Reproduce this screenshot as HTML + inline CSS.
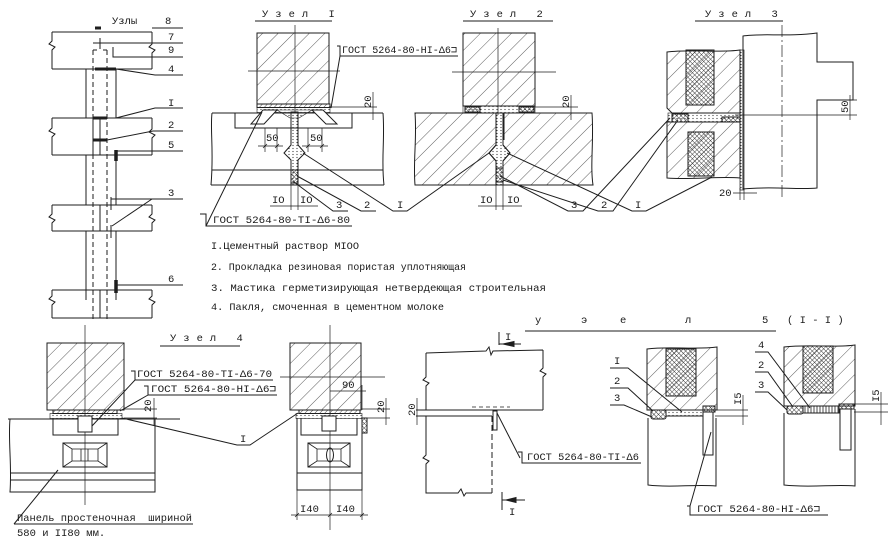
<!DOCTYPE html>
<html><head><meta charset="utf-8"><style>
html,body{margin:0;padding:0;background:#fff;}
svg{display:block;}
text{font-family:"Liberation Mono","DejaVu Sans Mono",monospace;fill:#1a1a1a;font-size:10.5px;stroke:none;}
</style></head><body>
<svg width="890" height="544" viewBox="0 0 890 544" xmlns="http://www.w3.org/2000/svg">
<defs>
<pattern id="hat" width="11" height="11" patternUnits="userSpaceOnUse" patternTransform="rotate(45)"><line x1="0" y1="0" x2="0" y2="11" stroke="#333" stroke-width="0.8"/></pattern>
<pattern id="xh" width="3.2" height="3.2" patternUnits="userSpaceOnUse" patternTransform="rotate(45)"><path d="M0,0V3.2M0,0H3.2" stroke="#222" stroke-width="0.8"/></pattern>
<pattern id="hs" width="3.5" height="3.5" patternUnits="userSpaceOnUse" patternTransform="rotate(45)"><line x1="0" y1="0" x2="0" y2="3.5" stroke="#222" stroke-width="0.8"/></pattern>
<pattern id="vt" width="3" height="8" patternUnits="userSpaceOnUse"><line x1="1" y1="0" x2="1" y2="8" stroke="#222" stroke-width="0.8"/></pattern>
<pattern id="dot" width="4" height="3" patternUnits="userSpaceOnUse"><circle cx="1" cy="1.5" r="0.6" fill="#333"/></pattern>
</defs>
<g fill="none" stroke="#1e1e1e" stroke-width="1">

<!-- ===== Overview (Узлы) ===== -->
<text x="112" y="24">Узлы</text>
<text x="165" y="24">8</text>
<path d="M152,28H183"/>
<path d="M95,28H101" stroke-width="3"/>
<path d="M52,32H152 M52,69H152 M52,32V41 L49,44 L55,47 L52,50 V69 M152,32V44 L149,47 L155,50 L152,53V69"/>
<path d="M93,43H183 M100,38V49"/>
<text x="168" y="40">7</text>
<path d="M113,47V57H183"/>
<text x="168" y="53">9</text>
<path d="M93,50H97 M103,50H107"/>
<path d="M93,50V320 M107,50V320" stroke-dasharray="5,3"/>
<path d="M86,69V118 M116,69V118"/>
<path d="M95,69H116" stroke-width="3"/>
<path d="M116,69 L155,75 H183"/>
<text x="168" y="72">4</text>
<path d="M52,118H152 M52,155H152 M52,118V128 L49,131 L55,134 L52,137 V155 M152,118V129 L149,132 L155,135 L152,138V155"/>
<path d="M93,118V155 M100,118V155"/>
<path d="M93,118H107 M93,140H107" stroke-width="3"/>
<path d="M116,118 L155,108 H183"/>
<text x="168" y="106">I</text>
<path d="M107,140 L153,131 H183"/>
<text x="168" y="128">2</text>
<path d="M116,150V161" stroke-width="3.5"/>
<path d="M116,151H183"/>
<text x="168" y="148">5</text>
<path d="M86,155V205 M116,155V205"/>
<path d="M111,199H183 M111,197V210 M152,199 L112,226 M111,225V238"/>
<text x="168" y="196">3</text>
<path d="M52,205H152 M52,231H152 M52,205V214 L49,217 L55,220 L52,223 V231 M152,205V214 L149,217 L155,220 L152,223V231"/>
<path d="M100,205V231"/>
<path d="M86,231V290 M116,231V290"/>
<path d="M116,280V293" stroke-width="3.5"/>
<path d="M116,285H183"/>
<text x="168" y="282">6</text>
<path d="M52,290H152 M52,318H152 M52,290V296 L49,299 L55,302 L52,305 V318 M152,290V296 L149,299 L155,302 L152,305V318"/>
<path d="M86,290V300 M100,290V318 M116,290V300"/>

<!-- ===== Узел I ===== -->
<text x="262" y="17" letter-spacing="7">Узел I</text>
<path d="M255,21H332"/>
<rect x="257" y="33" width="72" height="71" fill="url(#hat)"/>
<path d="M295,25V112 M248,71H340" stroke-width="0.7"/>
<rect x="257" y="104" width="73" height="3.5" fill="url(#hs)"/>
<rect x="257" y="107.5" width="73" height="5" fill="url(#dot)" stroke-width="0.6"/>
<path d="M212,113H383 M212,113 C210,130 214,150 211,185 M383,113 C385,140 381,160 384,185 M211,185H384 M212,170H383"/>
<path d="M235,113V128H352V113"/>
<polygon points="263,110 277,110 264,124 251,124" fill="#fff"/>
<polygon points="312,110 323,110 337,124 326,124" fill="#fff"/>
<polygon points="277,110 312,110 299,118 290,118" fill="url(#dot)" stroke-width="0.6"/>
<polygon points="291,112 298,112 298,145 305,153 298,160 298,185 291,185 291,160 284,153 291,145" fill="url(#dot)"/>
<rect x="291" y="170" width="7" height="13" fill="url(#xh)"/>
<path d="M265,128V152 M277,128V152 M258,146H283 M263,148 L267,144 M275,148 L279,144" stroke-width="0.7"/>
<text x="266" y="141">50</text>
<path d="M308,128V152 M322,128V152 M302,146H328 M306,148 L310,144 M320,148 L324,144" stroke-width="0.7"/>
<text x="310" y="141">50</text>
<path d="M330,107H377 M330,113H377 M373,92V120" stroke-width="0.7"/>
<text transform="translate(371,108) rotate(-90)">20</text>
<path d="M337,46H340V56H458 M340,56 L331,108"/>
<text x="342" y="53" textLength="115" lengthAdjust="spacingAndGlyphs">ГОСТ 5264-80-НI-Δ6⊐</text>
<path d="M200,214H206V226H352 M206,226 L262,112"/>
<text x="213" y="223" textLength="137" lengthAdjust="spacingAndGlyphs">ГОСТ 5264-80-TI-Δ6-80</text>
<path d="M291,185V210 M298,185V210 M270,206H318" stroke-width="0.7"/>
<text x="272" y="203">IO</text>
<text x="300" y="203">IO</text>
<path d="M294,182 L333,211 H348"/>
<text x="336" y="208">3</text>
<path d="M297,176 L361,211 H376"/>
<text x="364" y="208">2</text>
<path d="M303,153 L393,211 H407 L489,153"/>
<text x="397" y="208">I</text>

<!-- ===== Узел 2 ===== -->
<text x="470" y="17" letter-spacing="7">Узел 2</text>
<path d="M463,21H553"/>
<rect x="463" y="33" width="72" height="73" fill="url(#hat)"/>
<path d="M498,28V115 M452,72H556" stroke-width="0.7"/>
<rect x="463" y="106" width="72" height="7" fill="url(#dot)" stroke-width="0.6"/>
<rect x="465" y="107" width="15" height="5" fill="url(#xh)"/>
<rect x="519" y="107" width="15" height="5" fill="url(#xh)"/>
<path d="M415,113 H496 V145 L489,153 L496,161 V185 H415 C413,160 417,140 415,113 Z" fill="url(#hat)"/>
<path d="M503,113 H592 C594,140 590,165 593,185 H503 V161 L510,153 L503,145 Z" fill="url(#hat)"/>
<polygon points="496,113 503,113 503,145 510,153 503,161 503,185 496,185 496,161 489,153 496,145" fill="url(#dot)"/>
<rect x="496" y="168" width="7" height="14" fill="url(#xh)"/>
<path d="M503.5,113V140" stroke-width="2"/>
<path d="M535,107H578 M535,113H578 M571,95V120" stroke-width="0.7"/>
<text transform="translate(569,108) rotate(-90)">20</text>
<path d="M496,185V210 M503,185V210 M478,206H522" stroke-width="0.7"/>
<text x="480" y="203">IO</text>
<text x="507" y="203">IO</text>
<path d="M500,176 L568,211 H583 L670,118"/>
<text x="571" y="208">3</text>
<path d="M503,180 L598,211 H613 L678,120"/>
<text x="601" y="208">2</text>
<path d="M507,153 L632,211 H646 L712,177"/>
<text x="635" y="208">I</text>

<!-- ===== Узел 3 ===== -->
<text x="705" y="17" letter-spacing="7">Узел 3</text>
<path d="M695,21H783"/>
<path d="M743,36 C760,33 790,37 817,33 V62 H853 V100 H817 V188 C800,190 770,186 743,189 Z"/>
<path d="M782,25V200" stroke-width="0.7" stroke-dasharray="12,3,2,3"/>
<path d="M735,115H857" stroke-width="0.8"/>
<path d="M835,100H857 M850,95V120" stroke-width="0.7"/>
<text transform="translate(848,113) rotate(-90)">50</text>
<rect x="740" y="50" width="4" height="140" fill="url(#dot)" stroke-width="0.7"/>
<path d="M744,188V200 M740,188V200" stroke-width="0.7"/>
<path d="M667,52 C690,49 720,53 740,50 V113 H672 L667,108 Z" fill="url(#hat)"/>
<rect x="686" y="50" width="28" height="55" fill="url(#xh)"/>
<rect x="668" y="113" width="72" height="9" fill="url(#dot)" stroke-width="0.6"/>
<rect x="672" y="114" width="16" height="8" fill="url(#xh)"/>
<rect x="722" y="117" width="18" height="5" fill="url(#xh)"/>
<path d="M667,122 H740 V178 C720,176 690,180 667,178 Z" fill="url(#hat)"/>
<rect x="688" y="132" width="26" height="44" fill="url(#xh)"/>
<path d="M733,193H757" stroke-width="0.7"/>
<text x="719" y="196">20</text>

<!-- ===== Legend ===== -->
<text x="211" y="249" textLength="148" lengthAdjust="spacingAndGlyphs">I.Цементный раствор MIOO</text>
<text x="211" y="270" textLength="255" lengthAdjust="spacingAndGlyphs">2. Прокладка резиновая пористая уплотняющая</text>
<text x="211" y="291" textLength="335" lengthAdjust="spacingAndGlyphs">3. Мастика герметизирующая нетвердеющая строительная</text>
<text x="211" y="310" textLength="233" lengthAdjust="spacingAndGlyphs">4. Пакля, смоченная в цементном молоке</text>

<!-- ===== Узел 4 left ===== -->
<text x="170" y="341" letter-spacing="7">Узел 4</text>
<path d="M160,346H240"/>
<rect x="47" y="343" width="77" height="67" fill="url(#hat)"/>
<path d="M85,325V505" stroke-width="0.7"/>
<rect x="53" y="410" width="64" height="3.5" fill="url(#hs)"/>
<rect x="50" y="413.5" width="72" height="5" fill="url(#dot)" stroke-width="0.6"/>
<path d="M8,419H180"/>
<path d="M10,419 C8,440 12,465 10,492 H155 V419 M10,473H155 M10,480H155"/>
<path d="M53,419V435H118V419"/>
<rect x="78" y="416" width="14" height="16" fill="#fff"/>
<rect x="63" y="443" width="44" height="24"/>
<path d="M63,443 L72,449 H98 L107,443 M63,467 L72,461 H98 L107,467 M72,449V461 M98,449V461 M81,449V461 M88,449V461" stroke-width="0.8"/>
<path d="M124,409H157 M124,418H157 M154,398V425" stroke-width="0.7"/>
<text transform="translate(151,412) rotate(-90)">20</text>
<path d="M131,371H135V380H273 M135,380 L92,426"/>
<text x="137" y="377" textLength="135" lengthAdjust="spacingAndGlyphs">ГОСТ 5264-80-TI-Δ6-70</text>
<path d="M144,386H148V395H277 M148,395 L120,411"/>
<text x="151" y="392" textLength="125" lengthAdjust="spacingAndGlyphs">ГОСТ 5264-80-HI-Δ6⊐</text>
<path d="M122,418 L237,445 H250 L298,413"/>
<text x="240" y="442">I</text>
<path d="M14,524 L58,470 M14,524H193"/>
<text x="17" y="521" xml:space="preserve" textLength="175" lengthAdjust="spacingAndGlyphs">Панель простеночная  шириной</text>
<text x="17" y="536">580 и II80 мм.</text>

<!-- ===== Узел 4 right ===== -->
<rect x="290" y="343" width="71" height="67" fill="url(#hat)"/>
<path d="M280,377H385 M330,325V530" stroke-width="0.7"/>
<path d="M330,391H366 M362,385V410" stroke-width="0.7"/>
<text x="342" y="388">90</text>
<path d="M361,409H390 M361,418H390 M386,398V425" stroke-width="0.7"/>
<text transform="translate(384,413) rotate(-90)">20</text>
<rect x="299" y="410" width="61" height="3.5" fill="url(#hs)"/>
<rect x="296" y="413.5" width="66" height="5" fill="url(#dot)" stroke-width="0.6"/>
<path d="M297,418 V490 H362 V418 M297,473H362"/>
<path d="M301,418V435H357V418"/>
<rect x="322" y="416" width="14" height="15" fill="#fff"/>
<rect x="308" y="443" width="42" height="24"/>
<path d="M308,443 L317,449 H341 L350,443 M308,467 L317,461 H341 L350,467 M317,449V461 M341,449V461" stroke-width="0.8"/>
<ellipse cx="330" cy="455" rx="3.5" ry="7"/>
<rect x="362" y="418" width="5" height="15" fill="url(#xh)"/>
<path d="M297,490V520 M362,490V520 M291,515H368 M295,517 L299,513 M328,517 L332,513 M360,517 L364,513" stroke-width="0.7"/>
<text x="300" y="512">I40</text>
<text x="336" y="512">I40</text>

<!-- ===== Узел 5 title ===== -->
<text x="535" y="323">у</text>
<text x="581" y="323">э</text>
<text x="620" y="323">е</text>
<text x="685" y="323">л</text>
<text x="762" y="323">5</text>
<text x="787" y="323" xml:space="preserve">( I - I )</text>
<path d="M525,331H776"/>

<!-- ===== Узел 5 left ===== -->
<path d="M499,332V345 M499,344H521"/>
<polygon points="503,344 514,341.5 514,346.5" fill="#1e1e1e"/>
<text x="505" y="340">I</text>
<path d="M426,353 L486,351 L489,347 L491,355 L493,351 L543,350 M426,353V377 L423,380 L429,383 L426,386 V410 M543,350V368 L540,371 L546,374 L543,377V410 M416,410H543"/>
<path d="M472,407H510" stroke-dasharray="4,3" stroke-width="0.8"/>
<path d="M416,416H492 M426,416V455 L423,458 L429,461 L426,464 V493 H458 L461,489 L464,496 L466,493 H492"/>
<path d="M492,416V493" stroke-dasharray="6,3"/>
<rect x="493" y="411" width="4" height="19" fill="#fff"/>
<path d="M417,398V425" stroke-width="0.7"/>
<text transform="translate(415,416) rotate(-90)">20</text>
<path d="M497,413 L520,458 M518,452H522V463H641"/>
<text x="527" y="460" textLength="112" lengthAdjust="spacingAndGlyphs">ГОСТ 5264-80-TI-Δ6</text>
<path d="M502,492V510 M502,500H525"/>
<polygon points="506,500 516,497.5 516,502.5" fill="#1e1e1e"/>
<text x="509" y="515">I</text>

<!-- ===== Узел 5 middle ===== -->
<path d="M647,349 C670,346 695,350 717,347 V410 H647 Z" fill="url(#hat)"/>
<rect x="666" y="349" width="30" height="47" fill="url(#xh)"/>
<rect x="651" y="410" width="15" height="9" rx="2" fill="url(#xh)"/>
<rect x="666" y="410" width="37" height="6" fill="url(#dot)" stroke-width="0.6"/>
<rect x="703" y="406" width="12" height="6" fill="url(#xh)"/>
<path d="M648,418 V485 C670,488 695,484 716,486 V418 M666,416H703"/>
<rect x="703" y="412" width="10" height="43" fill="#fff"/>
<path d="M715,410H748 M715,416H748 M743,395V425" stroke-width="0.7"/>
<text transform="translate(741,405) rotate(-90)">I5</text>
<path d="M610,368H628 L682,412"/>
<text x="614" y="364">I</text>
<path d="M610,388H628 L653,411"/>
<text x="614" y="384">2</text>
<path d="M610,405H624 L652,417"/>
<text x="614" y="401">3</text>
<path d="M711,432 L690,506 M687,506H690V515H828"/>
<text x="697" y="512" textLength="123" lengthAdjust="spacingAndGlyphs">ГОСТ 5264-80-HI-Δ6⊐</text>

<!-- ===== Узел 5 right ===== -->
<path d="M784,347 C810,344 835,348 855,345 V406 H784 Z" fill="url(#hat)"/>
<rect x="803" y="346" width="30" height="47" fill="url(#xh)"/>
<rect x="787" y="406" width="16" height="8" rx="2" fill="url(#xh)"/>
<rect x="803" y="406" width="36" height="7" fill="url(#vt)"/>
<rect x="839" y="404" width="15" height="5" fill="url(#xh)"/>
<path d="M784,413 V485 C810,488 835,484 855,486 V409"/>
<rect x="840" y="409" width="11" height="41" fill="#fff"/>
<path d="M854,404H888 M854,412H888 M881,392V425" stroke-width="0.7"/>
<text transform="translate(879,402) rotate(-90)">I5</text>
<path d="M755,352H768 L810,408"/>
<text x="758" y="348">4</text>
<path d="M755,372H768 L793,407"/>
<text x="758" y="368">2</text>
<path d="M755,392H768 L787,410"/>
<text x="758" y="388">3</text>

</g>
</svg>
</body></html>
